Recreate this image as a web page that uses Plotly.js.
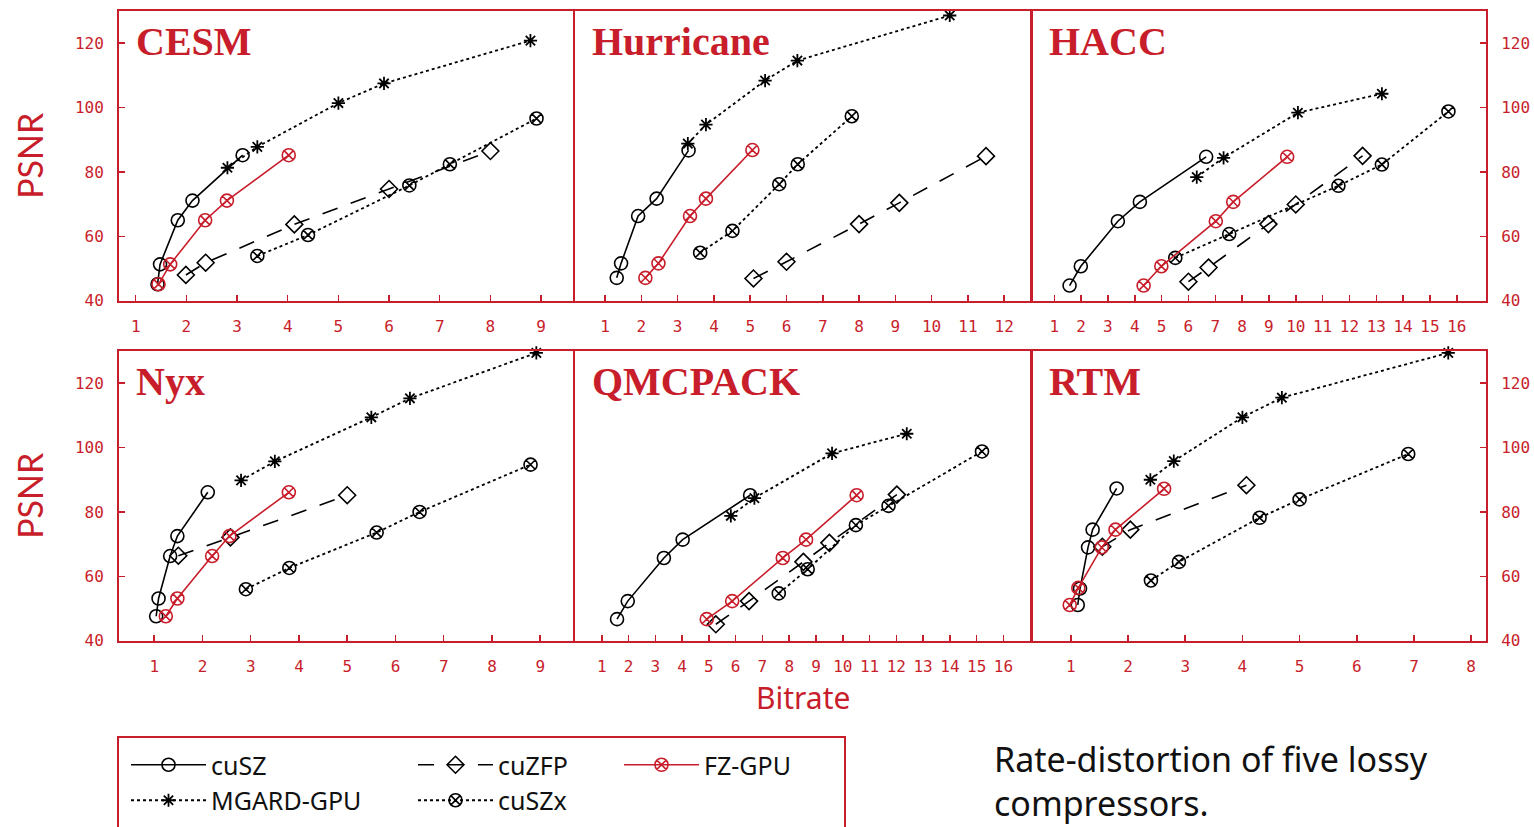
<!DOCTYPE html>
<html>
<head>
<meta charset="utf-8">
<script src="https://cdn.plot.ly/plotly-3.0.1.min.js"></script>
<style>html,body{margin:0;padding:0;background:#fff;}#chart{width:1534px;height:827px;}</style>
</head>
<body>
<div id="chart"></div>
<script>
// ---------- data ----------
const panelNames = ['CESM', 'Hurricane', 'HACC', 'Nyx', 'QMCPACK', 'RTM'];
const seriesNames = ['cuSZ', 'cuZFP', 'FZ-GPU', 'MGARD-GPU', 'cuSZx'];

const yTickVals = [40, 60, 80, 100, 120];
const CESM_ticks = [1, 2, 3, 4, 5, 6, 7, 8, 9];
const Hurricane_ticks = [1, 2, 3, 4, 5, 6, 7, 8, 9, 10, 11, 12];
const HACC_ticks = [1, 2, 3, 4, 5, 6, 7, 8, 9, 10, 11, 12, 13, 14, 15, 16];
const Nyx_ticks = [1, 2, 3, 4, 5, 6, 7, 8, 9];
const QMCPACK_ticks = [1, 2, 3, 4, 5, 6, 7, 8, 9, 10, 11, 12, 13, 14, 15, 16];
const RTM_ticks = [1, 2, 3, 4, 5, 6, 7, 8];

// CESM
const CESM_cuSZ_x = [1.43, 1.48, 1.83, 2.12, 3.11];
const CESM_cuSZ_y = [45.1, 51.3, 65.0, 71.1, 85.2];
const CESM_cuZFP_x = [1.99, 2.38, 4.13, 6.00, 8.00];
const CESM_cuZFP_y = [48.0, 51.8, 63.7, 74.7, 86.5];
const CESM_FZGPU_x = [1.45, 1.68, 2.37, 2.80, 4.02];
const CESM_FZGPU_y = [45.1, 51.3, 65.0, 71.1, 85.2];
const CESM_MGARD_x = [2.81, 3.40, 5.00, 5.90, 8.79];
const CESM_MGARD_y = [81.3, 87.8, 101.4, 107.5, 120.8];
const CESM_cuSZx_x = [3.40, 4.40, 6.40, 7.20, 8.91];
const CESM_cuSZx_y = [53.9, 60.4, 75.8, 82.4, 96.6];

// Hurricane
const Hurricane_cuSZ_x = [1.32, 1.44, 1.91, 2.42, 3.30];
const Hurricane_cuSZ_y = [47.1, 51.6, 66.3, 71.7, 86.7];
const Hurricane_cuZFP_x = [5.09, 6.00, 8.00, 9.11, 11.50];
const Hurricane_cuZFP_y = [46.9, 52.1, 63.8, 70.4, 84.9];
const Hurricane_FZGPU_x = [2.11, 2.47, 3.34, 3.78, 5.06];
const Hurricane_FZGPU_y = [47.1, 51.6, 66.3, 71.7, 86.8];
const Hurricane_MGARD_x = [3.28, 3.78, 5.41, 6.30, 10.50];
const Hurricane_MGARD_y = [88.8, 94.7, 108.4, 114.6, 128.6];
const Hurricane_cuSZx_x = [3.62, 4.51, 5.80, 6.31, 7.80];
const Hurricane_cuSZx_y = [54.9, 61.7, 76.2, 82.4, 97.3];

// HACC
const HACC_cuSZ_x = [1.57, 1.99, 3.37, 4.19, 6.66];
const HACC_cuSZ_y = [44.7, 50.7, 64.7, 70.7, 84.7];
const HACC_cuZFP_x = [6.00, 6.75, 8.98, 10.00, 12.49];
const HACC_cuZFP_y = [45.9, 50.3, 63.8, 69.9, 85.0];
const HACC_FZGPU_x = [4.33, 4.99, 7.02, 7.67, 9.68];
const HACC_FZGPU_y = [44.7, 50.7, 64.7, 70.7, 84.7];
const HACC_MGARD_x = [6.31, 7.31, 10.08, 13.21];
const HACC_MGARD_y = [78.4, 84.4, 98.4, 104.3];
const HACC_cuSZx_x = [5.51, 7.52, 11.59, 13.21, 15.69];
const HACC_cuSZx_y = [53.3, 60.7, 75.7, 82.3, 98.8];

// Nyx
const Nyx_cuSZ_x = [1.04, 1.09, 1.33, 1.48, 2.11];
const Nyx_cuSZ_y = [47.6, 53.1, 66.3, 72.5, 86.1];
const Nyx_cuZFP_x = [1.50, 2.58, 5.00];
const Nyx_cuZFP_y = [66.4, 72.1, 85.2];
const Nyx_FZGPU_x = [1.24, 1.48, 2.20, 2.56, 3.79];
const Nyx_FZGPU_y = [47.6, 53.1, 66.3, 72.5, 86.1];
const Nyx_MGARD_x = [2.80, 3.50, 5.50, 6.30, 8.92];
const Nyx_MGARD_y = [89.8, 95.7, 109.4, 115.3, 129.4];
const Nyx_cuSZx_x = [2.90, 3.80, 5.61, 6.50, 8.80];
const Nyx_cuSZx_y = [56.0, 62.6, 73.6, 80.0, 94.7];

// QMCPACK
const QMCPACK_cuSZ_x = [1.57, 1.97, 3.32, 4.02, 6.54];
const QMCPACK_cuSZ_y = [46.7, 52.3, 65.7, 71.4, 85.2];
const QMCPACK_cuZFP_x = [5.26, 6.50, 8.53, 9.50, 12.02];
const QMCPACK_cuZFP_y = [45.1, 52.3, 64.5, 70.4, 85.4];
const QMCPACK_FZGPU_x = [4.92, 5.87, 7.76, 8.63, 10.52];
const QMCPACK_FZGPU_y = [46.7, 52.3, 65.7, 71.4, 85.2];
const QMCPACK_MGARD_x = [5.82, 6.70, 9.60, 12.39];
const QMCPACK_MGARD_y = [78.8, 84.3, 98.2, 104.3];
const QMCPACK_cuSZx_x = [7.61, 8.69, 10.49, 11.71, 15.20];
const QMCPACK_cuSZx_y = [54.7, 62.2, 75.9, 81.9, 98.8];

// RTM
const RTM_cuSZ_x = [1.12, 1.16, 1.30, 1.38, 1.80];
const RTM_cuSZ_y = [51.1, 56.2, 69.0, 74.5, 87.3];
const RTM_cuZFP_x = [1.55, 2.04, 4.07];
const RTM_cuZFP_y = [69.2, 74.5, 88.3];
const RTM_FZGPU_x = [0.98, 1.13, 1.54, 1.78, 2.63];
const RTM_FZGPU_y = [51.1, 56.4, 69.0, 74.5, 87.2];
const RTM_MGARD_x = [2.39, 2.80, 4.00, 4.69, 7.60];
const RTM_MGARD_y = [90.0, 95.8, 109.4, 115.5, 129.4];
const RTM_cuSZx_x = [2.40, 2.89, 4.30, 5.00, 6.90];
const RTM_cuSZx_y = [58.7, 64.5, 78.2, 83.9, 98.0];

// ---------- styling ----------
const RED = '#c81e2b';
const BLACK = '#000000';
const W = 1534, H = 827;

const xRanges = [[0.67, 9.63], [0.17, 12.74], [0.17, 17.09], [0.27, 9.68], [0.0, 17.03], [0.32, 8.26]];
const colDomainsPx = [[119, 573], [575, 1031], [1032, 1486]];
const rowDomainsPx = [[11, 300.7], [351, 640.7]];

const panelData = {
  CESM: [[CESM_cuSZ_x, CESM_cuSZ_y], [CESM_cuZFP_x, CESM_cuZFP_y], [CESM_FZGPU_x, CESM_FZGPU_y], [CESM_MGARD_x, CESM_MGARD_y], [CESM_cuSZx_x, CESM_cuSZx_y]],
  Hurricane: [[Hurricane_cuSZ_x, Hurricane_cuSZ_y], [Hurricane_cuZFP_x, Hurricane_cuZFP_y], [Hurricane_FZGPU_x, Hurricane_FZGPU_y], [Hurricane_MGARD_x, Hurricane_MGARD_y], [Hurricane_cuSZx_x, Hurricane_cuSZx_y]],
  HACC: [[HACC_cuSZ_x, HACC_cuSZ_y], [HACC_cuZFP_x, HACC_cuZFP_y], [HACC_FZGPU_x, HACC_FZGPU_y], [HACC_MGARD_x, HACC_MGARD_y], [HACC_cuSZx_x, HACC_cuSZx_y]],
  Nyx: [[Nyx_cuSZ_x, Nyx_cuSZ_y], [Nyx_cuZFP_x, Nyx_cuZFP_y], [Nyx_FZGPU_x, Nyx_FZGPU_y], [Nyx_MGARD_x, Nyx_MGARD_y], [Nyx_cuSZx_x, Nyx_cuSZx_y]],
  QMCPACK: [[QMCPACK_cuSZ_x, QMCPACK_cuSZ_y], [QMCPACK_cuZFP_x, QMCPACK_cuZFP_y], [QMCPACK_FZGPU_x, QMCPACK_FZGPU_y], [QMCPACK_MGARD_x, QMCPACK_MGARD_y], [QMCPACK_cuSZx_x, QMCPACK_cuSZx_y]],
  RTM: [[RTM_cuSZ_x, RTM_cuSZ_y], [RTM_cuZFP_x, RTM_cuZFP_y], [RTM_FZGPU_x, RTM_FZGPU_y], [RTM_MGARD_x, RTM_MGARD_y], [RTM_cuSZx_x, RTM_cuSZx_y]]
};
const panelTicks = [CESM_ticks, Hurricane_ticks, HACC_ticks, Nyx_ticks, QMCPACK_ticks, RTM_ticks];

const seriesStyle = [
  {line: {color: BLACK, width: 1.6, dash: 'solid'}, marker: {symbol: 'circle-open', size: 13, color: BLACK, line: {width: 1.6, color: BLACK}}, legend: 'legend'},
  {line: {color: BLACK, width: 1.6, dash: '16px,14px'}, marker: {symbol: 'diamond-open', size: 13, color: BLACK, line: {width: 1.6, color: BLACK}}, legend: 'legend2'},
  {line: {color: RED, width: 1.6, dash: 'solid'}, marker: {symbol: 'circle-x-open', size: 13, color: RED, line: {width: 1.6, color: RED}}, legend: 'legend3'},
  {line: {color: BLACK, width: 1.8, dash: 'dot'}, marker: {symbol: 'asterisk-open', size: 11, color: BLACK, line: {width: 1.8, color: BLACK}}, legend: 'legend'},
  {line: {color: BLACK, width: 1.8, dash: 'dot'}, marker: {symbol: 'circle-x-open', size: 13, color: BLACK, line: {width: 1.6, color: BLACK}}, legend: 'legend2'}
];
const drawOrder = [4, 3, 1, 0, 2];

const traces = [];
const layout = {
  width: W, height: H,
  margin: {l: 0, r: 0, t: 0, b: 0},
  paper_bgcolor: '#ffffff', plot_bgcolor: '#ffffff',
  font: {family: 'DejaVu Sans Mono, monospace', color: RED},
  annotations: [], shapes: []
};

panelNames.forEach((name, p) => {
  const row = Math.floor(p / 3), col = p % 3;
  const ax = p === 0 ? '' : String(p + 1);
  const cd = colDomainsPx[col], rd = rowDomainsPx[row];
  drawOrder.forEach(s => {
    const st = seriesStyle[s];
    traces.push({
      type: 'scatter', mode: 'lines+markers',
      x: panelData[name][s][0], y: panelData[name][s][1],
      xaxis: 'x' + ax, yaxis: 'y' + ax,
      name: seriesNames[s],
      line: st.line, marker: st.marker,
      legend: st.legend, legendrank: s + 1,
      showlegend: p === 0,
      cliponaxis: false,
      hoverinfo: 'x+y+name'
    });
  });
  layout['xaxis' + ax] = {
    domain: [cd[0] / W, cd[1] / W],
    anchor: 'y' + ax,
    range: xRanges[p],
    tickmode: 'array', tickvals: panelTicks[p],
    ticks: 'inside', ticklen: 6, tickwidth: 1.5, tickcolor: RED,
    showline: true, linecolor: RED, linewidth: 2, mirror: true,
    showgrid: false, zeroline: false,
    tickfont: {family: 'DejaVu Sans Mono, monospace', size: 16, color: RED},
    ticklabelstandoff: 10
  };
  const yax = {
    domain: [1 - rd[1] / H, 1 - rd[0] / H],
    anchor: 'x' + ax,
    range: [40, 130],
    tickmode: 'array', tickvals: yTickVals,
    showline: true, linecolor: RED, linewidth: 2, mirror: true,
    showgrid: false, zeroline: false,
    tickfont: {family: 'DejaVu Sans Mono, monospace', size: 16, color: RED},
    ticklabelstandoff: 10
  };
  if (col === 0) {
    Object.assign(yax, {side: 'left', ticks: 'inside', ticklen: 6, tickwidth: 1.5, tickcolor: RED});
  } else if (col === 2) {
    Object.assign(yax, {side: 'right', ticks: 'inside', ticklen: 6, tickwidth: 1.5, tickcolor: RED});
  } else {
    Object.assign(yax, {ticks: '', showticklabels: false});
  }
  layout['yaxis' + ax] = yax;
  layout.annotations.push({
    text: name, xref: 'x' + ax + ' domain', yref: 'y' + ax + ' domain',
    x: 0.032, y: 0.98, xanchor: 'left', yanchor: 'top', showarrow: false,
    font: {family: 'Liberation Serif, serif', size: 40, color: RED, weight: 'bold'}
  });
});

// axis titles
['PSNR', 'PSNR'].forEach((t, i) => {
  const rd = rowDomainsPx[i];
  layout.annotations.push({
    text: t, xref: 'paper', yref: 'paper',
    x: 30 / W, y: 1 - ((rd[0] + rd[1]) / 2) / H, textangle: -90,
    xanchor: 'center', yanchor: 'middle', showarrow: false,
    font: {family: 'Liberation Sans Narrow, Lato, sans-serif', size: 34, color: RED}
  });
});
layout.annotations.push({
  text: 'Bitrate', xref: 'paper', yref: 'paper',
  x: 803 / W, y: 1 - 697 / H, xanchor: 'center', yanchor: 'middle', showarrow: false,
  font: {family: 'Noto Sans, sans-serif', size: 30, color: RED}
});
layout.annotations.push({
  text: 'Rate-distortion of five lossy<br>compressors.', xref: 'paper', yref: 'paper',
  x: 993 / W, y: 1 - 735 / H, xanchor: 'left', yanchor: 'top', align: 'left', showarrow: false,
  borderpad: 0,
  font: {family: 'Noto Sans, sans-serif', size: 34, color: '#111111'}
});

// legend box
layout.shapes.push({
  type: 'rect', xref: 'paper', yref: 'paper',
  x0: 118 / W, x1: 845 / W, y0: 1 - 737 / H, y1: -0.02,
  line: {color: RED, width: 2}, fillcolor: 'rgba(0,0,0,0)'
});

const legendCommon = {
  orientation: 'v', yanchor: 'top', xanchor: 'left',
  bgcolor: 'rgba(0,0,0,0)', borderwidth: 0, itemwidth: 75, tracegroupgap: 0,
  font: {family: 'Noto Sans, sans-serif', size: 25, color: '#111111'},
  traceorder: 'normal'
};
layout.legend = Object.assign({}, legendCommon, {x: 126 / W, y: 1 - 742 / H});
layout.legend2 = Object.assign({}, legendCommon, {x: 413 / W, y: 1 - 742 / H});
layout.legend3 = Object.assign({}, legendCommon, {x: 619 / W, y: 1 - 742 / H});

Plotly.newPlot('chart', traces, layout, {staticPlot: true, displayModeBar: false});
</script>
</body>
</html>
